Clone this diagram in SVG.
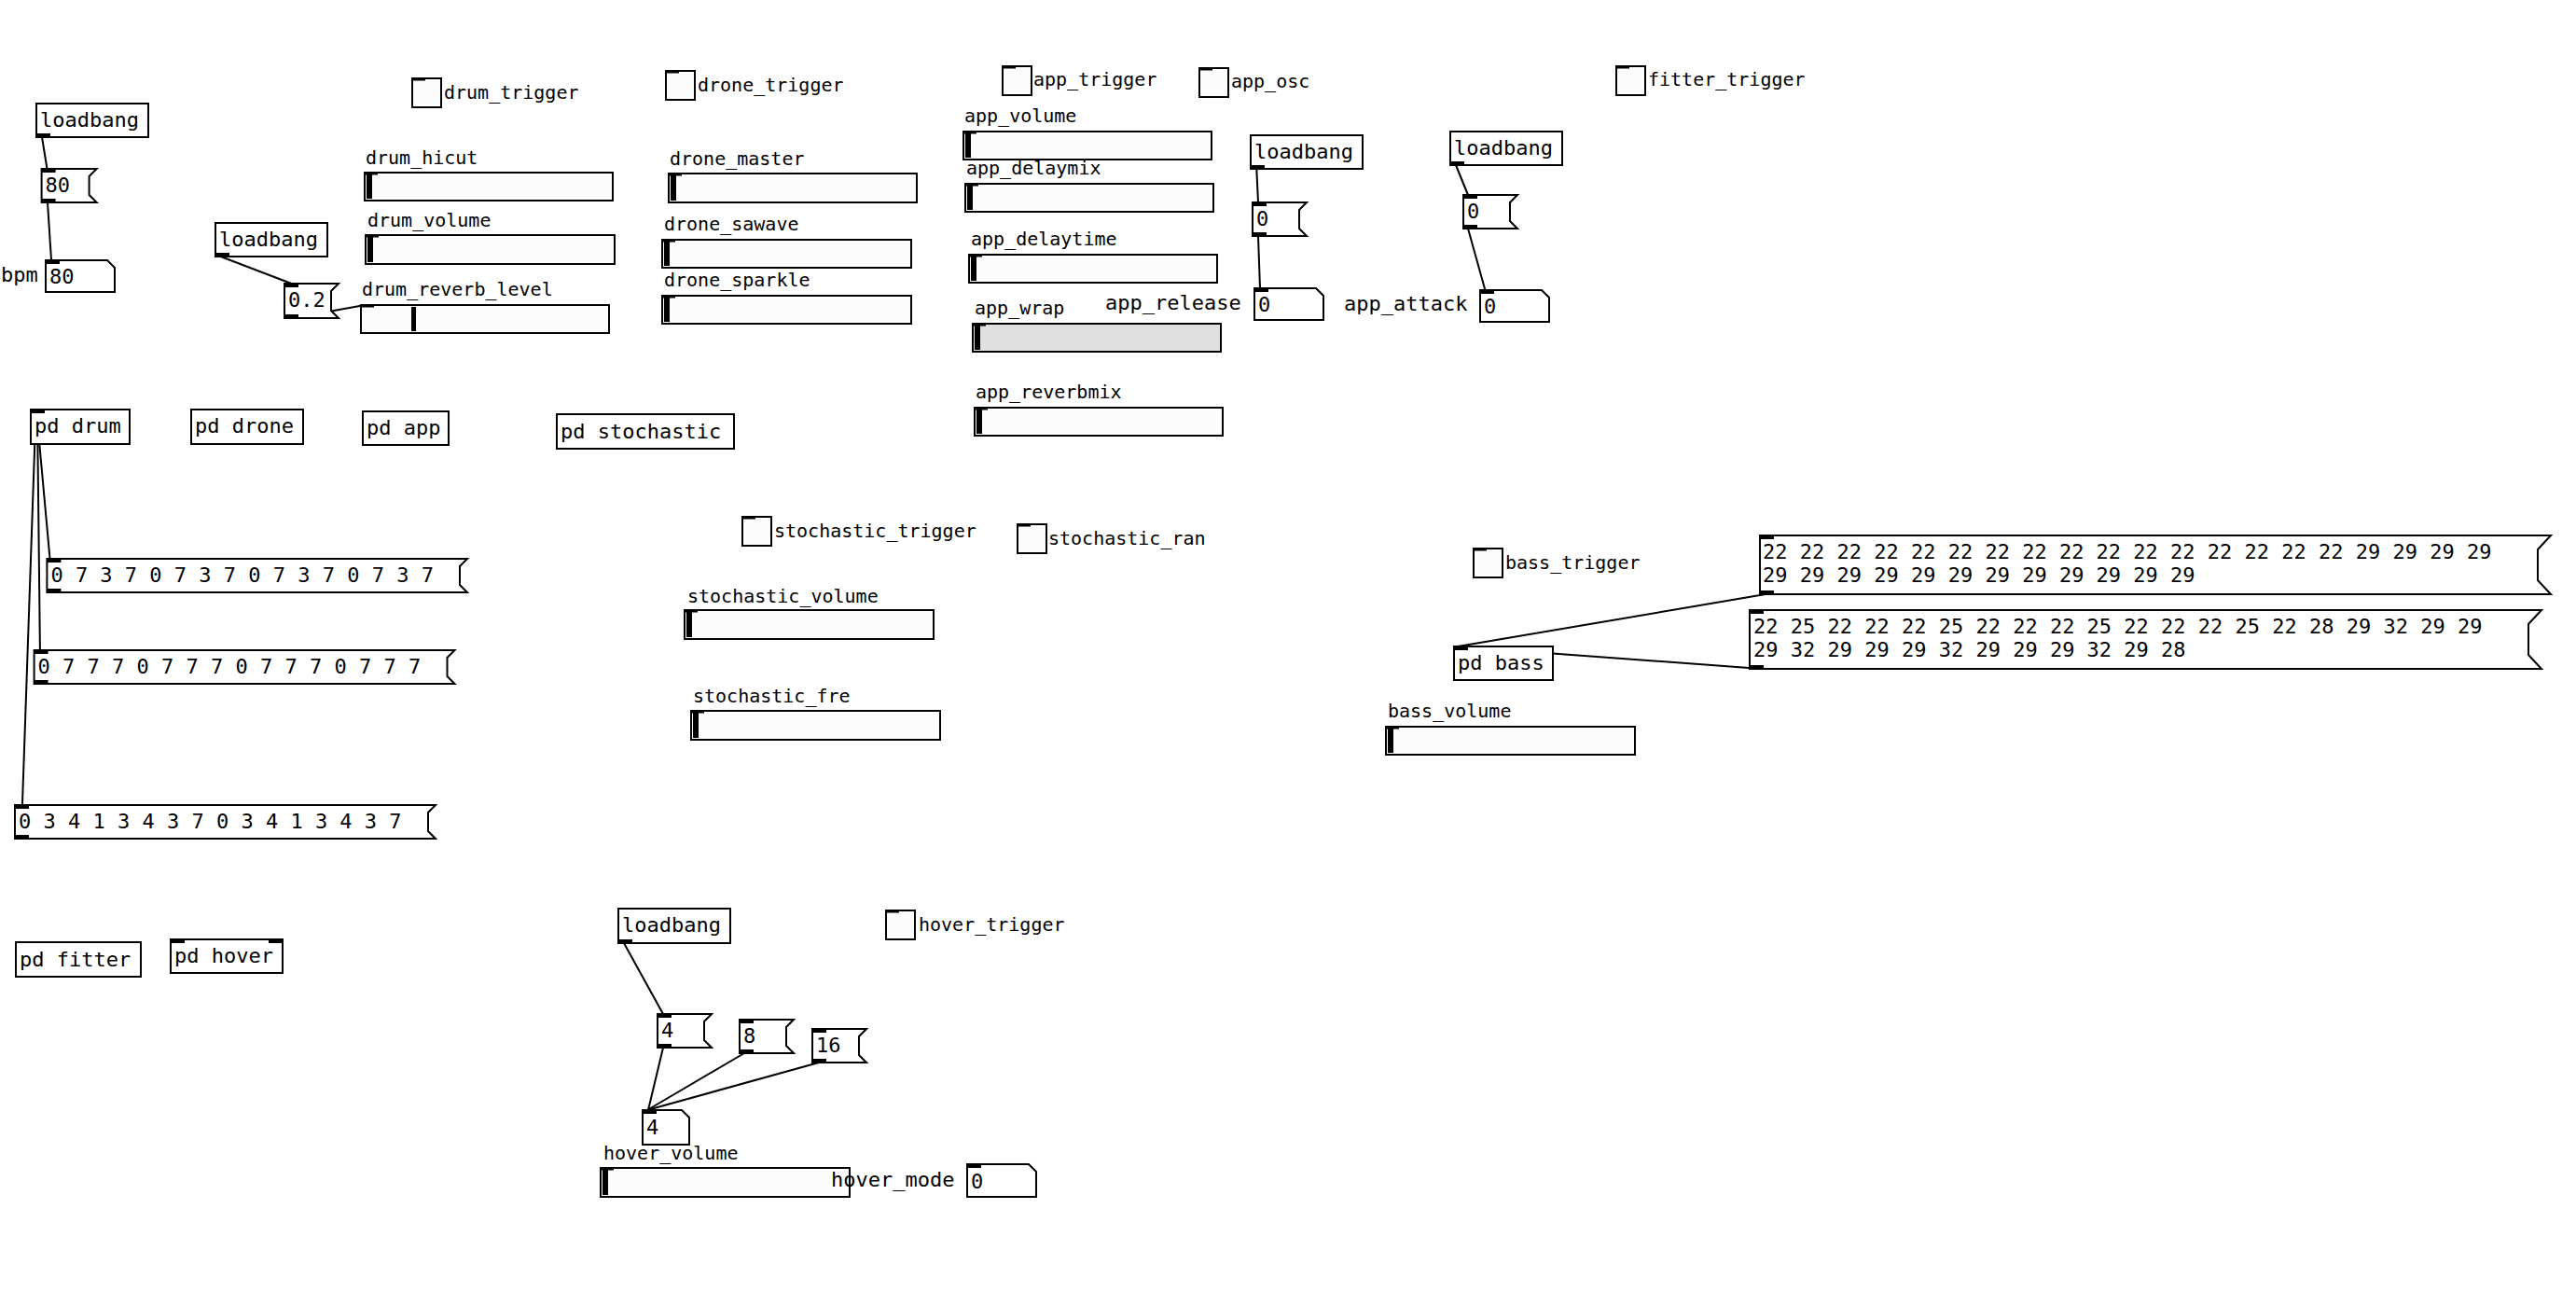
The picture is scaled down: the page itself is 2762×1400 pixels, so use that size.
<svg xmlns="http://www.w3.org/2000/svg" width="2762" height="1400" viewBox="0 0 2762 1400">
<style>
.b{fill:#fff;stroke:#000;stroke-width:2}
.s{fill:#fcfcfc;stroke:#000;stroke-width:2}
.g{fill:#e0e0e0;stroke:#000;stroke-width:2}
.n{fill:#000}
.t{font-family:"DejaVu Sans Mono","Liberation Mono",monospace;font-size:22px;fill:#000}
.l{font-family:"DejaVu Sans Mono","Liberation Mono",monospace;font-size:20px;fill:#000}
.c{stroke:#000;stroke-width:2;fill:none}
</style>
<rect x="0" y="0" width="2762" height="1400" fill="#fff"/>

<g id="connectors">
<line class="c" x1="45" y1="147" x2="50.5" y2="181"/>
<line class="c" x1="51" y1="217" x2="55" y2="279"/>
<line class="c" x1="236.6" y1="275" x2="312.5" y2="304"/>
<line class="c" x1="319" y1="340" x2="388.5" y2="327.5"/>
<line class="c" x1="1347.3" y1="181" x2="1349" y2="217"/>
<line class="c" x1="1349" y1="253" x2="1351" y2="309"/>
<line class="c" x1="1561" y1="177" x2="1574" y2="209"/>
<line class="c" x1="1574" y1="245" x2="1592.4" y2="311"/>
<line class="c" x1="56.8" y1="635" x2="39" y2="440"/>
<line class="c" x1="43.3" y1="733" x2="40" y2="440"/>
<line class="c" x1="22.7" y1="899" x2="38.5" y2="440"/>
<line class="c" x1="1893" y1="637" x2="1563" y2="693"/>
<line class="c" x1="1882" y1="716.5" x2="1563" y2="693"/>
<line class="c" x1="669" y1="1011" x2="711" y2="1087"/>
<line class="c" x1="711" y1="1123" x2="695" y2="1190"/>
<line class="c" x1="798" y1="1129" x2="694" y2="1190"/>
<line class="c" x1="878" y1="1139" x2="694" y2="1190"/>
</g>

<!-- toggles -->
<g id="drum_trigger"><rect class="s" x="442" y="84" width="31" height="31"/><rect class="n" x="442" y="83" width="14" height="3.5"/><text class="l" x="476" y="106">drum_trigger</text></g>
<g id="drone_trigger"><rect class="s" x="714" y="76" width="31" height="31"/><rect class="n" x="714" y="75" width="14" height="3.5"/><text class="l" x="748" y="98">drone_trigger</text></g>
<g id="app_trigger"><rect class="s" x="1075" y="71" width="31" height="31"/><rect class="n" x="1075" y="70" width="14" height="3.5"/><text class="l" x="1108" y="92">app_trigger</text></g>
<g id="app_osc"><rect class="s" x="1286" y="73" width="31" height="31"/><rect class="n" x="1286" y="72" width="14" height="3.5"/><text class="l" x="1320" y="94">app_osc</text></g>
<g id="fitter_trigger"><rect class="s" x="1733" y="71" width="31" height="31"/><rect class="n" x="1733" y="70" width="14" height="3.5"/><text class="l" x="1767" y="92">fitter_trigger</text></g>
<g id="stochastic_trigger"><rect class="s" x="796" y="554" width="31" height="31"/><rect class="n" x="796" y="553" width="14" height="3.5"/><text class="l" x="830" y="576">stochastic_trigger</text></g>
<g id="stochastic_ran"><rect class="s" x="1091" y="562" width="31" height="31"/><rect class="n" x="1091" y="561" width="14" height="3.5"/><text class="l" x="1124" y="584">stochastic_ran</text></g>
<g id="bass_trigger"><rect class="s" x="1580" y="588" width="31" height="31"/><rect class="n" x="1580" y="587" width="14" height="3.5"/><text class="l" x="1614" y="610">bass_trigger</text></g>
<g id="hover_trigger"><rect class="s" x="950" y="976" width="31" height="31"/><rect class="n" x="950" y="975" width="14" height="3.5"/><text class="l" x="985" y="998">hover_trigger</text></g>

<!-- sliders -->
<g id="drum_hicut"><text class="l" x="392" y="176">drum_hicut</text><rect class="s" x="391" y="185" width="266" height="30"/><rect class="n" x="391" y="184" width="14" height="3.5"/><rect class="n" x="393" y="187" width="6" height="26"/></g>
<g id="drum_volume"><text class="l" x="394" y="243">drum_volume</text><rect class="s" x="392" y="252" width="267" height="31"/><rect class="n" x="392" y="251" width="14" height="3.5"/><rect class="n" x="394" y="254" width="6" height="27"/></g>
<g id="drum_reverb_level"><text class="l" x="388" y="317">drum_reverb_level</text><rect class="s" x="387" y="327" width="266" height="30"/><rect class="n" x="387" y="326" width="14" height="3.5"/><rect class="n" x="441" y="329" width="5" height="26"/></g>
<g id="drone_master"><text class="l" x="718" y="177">drone_master</text><rect class="s" x="717" y="186" width="266" height="31"/><rect class="n" x="717" y="185" width="14" height="3.5"/><rect class="n" x="719" y="188" width="6" height="27"/></g>
<g id="drone_sawave"><text class="l" x="712" y="247">drone_sawave</text><rect class="s" x="710" y="257" width="267" height="30"/><rect class="n" x="710" y="256" width="14" height="3.5"/><rect class="n" x="712" y="259" width="6" height="26"/></g>
<g id="drone_sparkle"><text class="l" x="712" y="307">drone_sparkle</text><rect class="s" x="710" y="317" width="267" height="30"/><rect class="n" x="710" y="316" width="14" height="3.5"/><rect class="n" x="712" y="319" width="6" height="26"/></g>
<g id="app_volume"><text class="l" x="1034" y="131">app_volume</text><rect class="s" x="1033" y="141" width="266" height="30"/><rect class="n" x="1033" y="140" width="14" height="3.5"/><rect class="n" x="1035" y="143" width="6" height="26"/></g>
<g id="app_delaymix"><text class="l" x="1036" y="187">app_delaymix</text><rect class="s" x="1035" y="197" width="266" height="30"/><rect class="n" x="1035" y="196" width="14" height="3.5"/><rect class="n" x="1037" y="199" width="6" height="26"/></g>
<g id="app_delaytime"><text class="l" x="1041" y="263">app_delaytime</text><rect class="s" x="1039" y="273" width="266" height="30"/><rect class="n" x="1039" y="272" width="14" height="3.5"/><rect class="n" x="1041" y="275" width="6" height="26"/></g>
<g id="app_wrap"><text class="l" x="1045" y="337">app_wrap</text><rect class="g" x="1043" y="347" width="266" height="30"/><rect class="n" x="1043" y="346" width="14" height="3.5"/><rect class="n" x="1045" y="349" width="6" height="26"/></g>
<g id="app_reverbmix"><text class="l" x="1046" y="427">app_reverbmix</text><rect class="s" x="1045" y="437" width="266" height="30"/><rect class="n" x="1045" y="436" width="14" height="3.5"/><rect class="n" x="1047" y="439" width="6" height="26"/></g>
<g id="stochastic_volume"><text class="l" x="737" y="646">stochastic_volume</text><rect class="s" x="734" y="654" width="267" height="31"/><rect class="n" x="734" y="653" width="14" height="3.5"/><rect class="n" x="736" y="656" width="6" height="27"/></g>
<g id="stochastic_fre"><text class="l" x="743" y="753">stochastic_fre</text><rect class="s" x="741" y="762" width="267" height="31"/><rect class="n" x="741" y="761" width="14" height="3.5"/><rect class="n" x="743" y="764" width="6" height="27"/></g>
<g id="bass_volume"><text class="l" x="1488" y="769">bass_volume</text><rect class="s" x="1486" y="779" width="267" height="30"/><rect class="n" x="1486" y="778" width="14" height="3.5"/><rect class="n" x="1488" y="781" width="6" height="26"/></g>
<g id="hover_volume"><text class="l" x="647" y="1243">hover_volume</text><rect class="s" x="644" y="1252" width="267" height="31"/><rect class="n" x="644" y="1251" width="14" height="3.5"/><rect class="n" x="646" y="1254" width="6" height="27"/></g>

<!-- objects -->
<g id="loadbang1"><rect class="b" x="39" y="111" width="120" height="36"/><rect class="n" x="39" y="143" width="15" height="5"/><text class="t" x="43" y="136">loadbang</text></g>
<g id="loadbang2"><rect class="b" x="231" y="239" width="120" height="36"/><rect class="n" x="231" y="271" width="15" height="5"/><text class="t" x="235" y="264">loadbang</text></g>
<g id="loadbang3"><rect class="b" x="1341" y="145" width="120" height="36"/><rect class="n" x="1341" y="177" width="15" height="5"/><text class="t" x="1345" y="170">loadbang</text></g>
<g id="loadbang4"><rect class="b" x="1555" y="141" width="120" height="36"/><rect class="n" x="1555" y="173" width="15" height="5"/><text class="t" x="1559" y="166">loadbang</text></g>
<g id="loadbang5"><rect class="b" x="663" y="974" width="120" height="37"/><rect class="n" x="663" y="1007" width="15" height="5"/><text class="t" x="667" y="999">loadbang</text></g>
<g id="pd_drum"><rect class="b" x="33" y="439" width="106" height="37"/><rect class="n" x="33" y="438" width="15" height="5"/><text class="t" x="37" y="464">pd drum</text></g>
<g id="pd_drone"><rect class="b" x="205" y="439" width="120" height="37"/><text class="t" x="209" y="464">pd drone</text></g>
<g id="pd_app"><rect class="b" x="389" y="441" width="92" height="36"/><text class="t" x="393" y="466">pd app</text></g>
<g id="pd_stochastic"><rect class="b" x="597" y="444" width="190" height="37"/><text class="t" x="601" y="470">pd stochastic</text></g>
<g id="pd_fitter"><rect class="b" x="17" y="1010" width="134" height="37"/><text class="t" x="21" y="1036">pd fitter</text></g>
<g id="pd_hover"><rect class="b" x="183" y="1007" width="120" height="36"/><rect class="n" x="183" y="1006" width="15" height="5"/><rect class="n" x="288" y="1006" width="15" height="5"/><text class="t" x="187" y="1032">pd hover</text></g>
<g id="pd_bass"><rect class="b" x="1559" y="693" width="106" height="36"/><rect class="n" x="1559" y="692" width="15" height="5"/><text class="t" x="1563" y="718">pd bass</text></g>

<!-- messages -->
<g id="msg_80"><path class="b" d="M44.6,181 H103.6 L95.6,189 V209 L103.6,217 H44.6 Z"/><rect class="n" x="44.6" y="180" width="15" height="5"/><rect class="n" x="44.6" y="213" width="15" height="5"/><text class="t" x="48.6" y="206">80</text></g>
<g id="msg_0_2"><path class="b" d="M305,304 H363 L355,312 V333 L363,341 H305 Z"/><rect class="n" x="305" y="303" width="15" height="5"/><rect class="n" x="305" y="337" width="15" height="5"/><text class="t" x="309" y="329">0.2</text></g>
<g id="msg_0_a"><path class="b" d="M1343,217 H1401 L1393,225 V245 L1401,253 H1343 Z"/><rect class="n" x="1343" y="216" width="15" height="5"/><rect class="n" x="1343" y="249" width="15" height="5"/><text class="t" x="1347" y="242">0</text></g>
<g id="msg_0_b"><path class="b" d="M1569,209 H1627 L1619,217 V237 L1627,245 H1569 Z"/><rect class="n" x="1569" y="208" width="15" height="5"/><rect class="n" x="1569" y="241" width="15" height="5"/><text class="t" x="1573" y="234">0</text></g>
<g id="msg_4"><path class="b" d="M705,1087 H763 L755,1095 V1115 L763,1123 H705 Z"/><rect class="n" x="705" y="1086" width="15" height="5"/><rect class="n" x="705" y="1119" width="15" height="5"/><text class="t" x="709" y="1112">4</text></g>
<g id="msg_8"><path class="b" d="M793,1093 H851 L843,1101 V1121 L851,1129 H793 Z"/><rect class="n" x="793" y="1092" width="15" height="5"/><rect class="n" x="793" y="1125" width="15" height="5"/><text class="t" x="797" y="1118">8</text></g>
<g id="msg_16"><path class="b" d="M871,1103 H929 L921,1111 V1131 L929,1139 H871 Z"/><rect class="n" x="871" y="1102" width="15" height="5"/><rect class="n" x="871" y="1135" width="15" height="5"/><text class="t" x="875" y="1128">16</text></g>
<g id="list_drum1"><path class="b" d="M50.4,599 H501 L493,607 V627 L501,635 H50.4 Z"/><rect class="n" x="50.4" y="598" width="15" height="5"/><rect class="n" x="50.4" y="631" width="15" height="5"/><text class="t" x="54.4" y="624">0 7 3 7 0 7 3 7 0 7 3 7 0 7 3 7</text></g>
<g id="list_drum2"><path class="b" d="M36.6,697 H487.5 L479.5,705 V725 L487.5,733 H36.6 Z"/><rect class="n" x="36.6" y="696" width="15" height="5"/><rect class="n" x="36.6" y="729" width="15" height="5"/><text class="t" x="40.6" y="722">0 7 7 7 0 7 7 7 0 7 7 7 0 7 7 7</text></g>
<g id="list_drum3"><path class="b" d="M16,863 H467 L459,871 V891 L467,899 H16 Z"/><rect class="n" x="16" y="862" width="15" height="5"/><rect class="n" x="16" y="895" width="15" height="5"/><text class="t" x="20" y="888">0 3 4 1 3 4 3 7 0 3 4 1 3 4 3 7</text></g>
<g id="list_bass1"><path class="b" d="M1887,574 H2735 L2721,589 V622 L2735,637 H1887 Z"/><rect class="n" x="1887" y="573" width="15" height="5"/><rect class="n" x="1887" y="633" width="15" height="5"/><text class="t" x="1890" y="599">22 22 22 22 22 22 22 22 22 22 22 22 22 22 22 22 29 29 29 29</text><text class="t" x="1890" y="623.5">29 29 29 29 29 29 29 29 29 29 29 29</text></g>
<g id="list_bass2"><path class="b" d="M1876,654 H2725 L2711,669 V702 L2725,717 H1876 Z"/><rect class="n" x="1876" y="653" width="15" height="5"/><rect class="n" x="1876" y="713" width="15" height="5"/><text class="t" x="1880" y="679">22 25 22 22 22 25 22 22 22 25 22 22 22 25 22 28 29 32 29 29</text><text class="t" x="1880" y="703.5">29 32 29 29 29 32 29 29 29 32 29 28</text></g>

<!-- number boxes -->
<g id="num_bpm"><path class="b" d="M49,279 H115 L123,287 V313 H49 Z"/><rect class="n" x="49" y="278" width="15" height="5"/><text class="t" x="53" y="304">80</text></g>
<g id="num_release"><path class="b" d="M1345,309 H1411 L1419,317 V343 H1345 Z"/><rect class="n" x="1345" y="308" width="15" height="5"/><text class="t" x="1349" y="334">0</text></g>
<g id="num_attack"><path class="b" d="M1587,311 H1653 L1661,319 V345 H1587 Z"/><rect class="n" x="1587" y="310" width="15" height="5"/><text class="t" x="1591" y="336">0</text></g>
<g id="num_hover"><path class="b" d="M689,1190 H731 L739,1198 V1227 H689 Z"/><rect class="n" x="689" y="1189" width="15" height="5"/><text class="t" x="693" y="1216">4</text></g>
<g id="num_hover_mode"><path class="b" d="M1037,1248 H1103 L1111,1256 V1283 H1037 Z"/><rect class="n" x="1037" y="1247" width="15" height="5"/><text class="t" x="1041" y="1274">0</text></g>

<!-- comments -->
<g id="comments">
<text class="t" x="1" y="302">bpm</text>
<text class="t" x="1185" y="332">app_release</text>
<text class="t" x="1441" y="333">app_attack</text>
<text class="t" x="891" y="1272">hover_mode</text>
</g>
</svg>
